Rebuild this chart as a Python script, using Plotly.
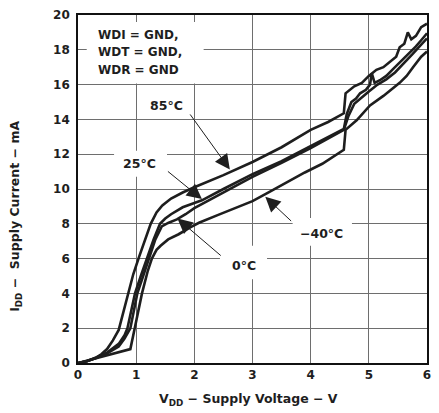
import plotly.graph_objects as go

# Supply current vs. supply voltage at four temperatures
v_85 = [0, 0.15, 0.3, 0.4, 0.5, 0.6, 0.7, 0.78, 0.85, 0.95, 1.05, 1.15, 1.25, 1.35, 1.45,
        1.6, 1.8, 2.0, 2.5, 3.0, 3.5, 4.0, 4.3, 4.57, 4.6, 4.75, 4.88, 5.0, 5.13, 5.25,
        5.36, 5.47, 5.53, 5.61, 5.67, 5.73, 5.81, 5.9, 6.0]
i_85 = [0, 0.1, 0.3, 0.5, 0.8, 1.3, 1.9, 2.9, 3.9, 5.1, 6.1, 7.1, 8.0, 8.65, 9.05,
        9.45, 9.8, 10.1, 10.8, 11.55, 12.4, 13.4, 13.85, 14.35, 15.5, 15.9, 16.1, 16.5,
        16.85, 17.0, 17.3, 17.6, 18.15, 18.35, 19.0, 18.6, 18.8, 19.3, 19.5]

v_25 = [0, 0.15, 0.3, 0.5, 0.7, 0.8, 0.85, 0.98, 1.08, 1.18, 1.3, 1.41, 1.5, 1.6, 1.8,
        2.0, 2.13, 2.5, 3.0, 3.5, 4.0, 4.57, 4.62, 4.7, 4.78, 4.85, 4.95, 5.02, 5.05,
        5.1, 5.19, 5.3, 5.42, 5.64, 5.81, 5.9, 6.0]
i_25 = [0, 0.1, 0.28, 0.6, 1.1, 1.6, 2.0, 4.0, 5.0, 6.0, 7.1, 8.0, 8.3, 8.55, 8.95,
        9.2, 9.35, 10.0, 10.85, 11.6, 12.45, 13.45, 14.3, 15.0, 15.2, 15.5, 15.7, 16.0, 16.66,
        16.1, 16.25, 16.5, 16.9, 17.6, 18.2, 18.55, 18.95]

v_0 = [0, 0.15, 0.3, 0.5, 0.7, 0.8, 0.9, 1.02, 1.12, 1.22, 1.33, 1.44, 1.55, 1.7, 1.85,
       2.0, 2.5, 3.0, 3.5, 4.0, 4.57, 4.65, 4.75, 4.85, 5.0, 5.15, 5.3, 5.45, 5.6,
       5.75, 5.9, 6.0]
i_0 = [0, 0.1, 0.27, 0.55, 0.95, 1.4, 2.0, 4.0, 5.0, 6.0, 7.1, 7.85, 8.05, 8.25, 8.55,
       8.9, 9.8, 10.7, 11.5, 12.35, 13.4, 14.2, 14.9, 15.2, 15.6, 16.0, 16.3, 16.7, 17.2,
       17.75, 18.3, 18.65]

v_m40 = [0, 0.3, 0.6, 0.9, 0.95, 1.0, 1.1, 1.2, 1.27, 1.35, 1.42, 1.55, 1.73, 1.93, 2.08,
         2.4, 2.7, 3.0, 3.3, 3.6, 3.9, 4.2, 4.57, 4.6, 4.79, 5.02, 5.25, 5.53, 5.65,
         5.76, 5.85, 5.9, 6.0]
i_m40 = [0, 0.27, 0.53, 0.8, 1.6, 2.4, 4.0, 5.3, 6.0, 6.5, 6.74, 7.1, 7.4, 7.8, 8.06,
         8.5, 8.9, 9.3, 9.85, 10.4, 10.95, 11.45, 12.25, 13.4, 13.95, 14.8, 15.35, 16.1, 16.5,
         17.0, 17.4, 17.6, 17.9]

x_ticks = [0, 1, 2, 3, 4, 5, 6]
y_ticks = [0, 2, 4, 6, 8, 10, 12, 14, 16, 18, 20]

FONT = "DejaVu Sans, Verdana, sans-serif"
INK = "#1e1e1e"

fig = go.Figure()
for vx, iy, name in [(v_85, i_85, "85°C"), (v_25, i_25, "25°C"),
                     (v_0, i_0, "0°C"), (v_m40, i_m40, "−40°C")]:
    fig.add_trace(go.Scatter(x=vx, y=iy, mode="lines", name=name,
                             line=dict(color=INK, width=2.6), showlegend=False,
                             hoverinfo="skip"))

# White panels behind the text so the grid stops around it
panels = [(0.15, 2.16, 16.07, 19.6),
          (0.62, 1.53, 10.7, 12.2),
          (2.44, 3.25, 4.82, 6.74),
          (3.69, 4.71, 6.74, 8.34)]
for x0, x1, y0, y1 in panels:
    fig.add_shape(type="rect", xref="x", yref="y", x0=x0, x1=x1, y0=y0, y1=y1,
                  fillcolor="white", line=dict(width=0), layer="between")

bold = dict(family=FONT, size=12.5, color=INK, weight="bold")

# Temperature labels
labels = [("85°C", 1.52, 14.8), ("25°C", 1.06, 11.49),
          ("0°C", 2.85, 5.61), ("−40°C", 4.18, 7.46)]
for txt, lx, ly in labels:
    fig.add_annotation(x=lx, y=ly, xref="x", yref="y", text=txt, showarrow=False,
                       xanchor="center", yanchor="middle", font=bold)

# Leader arrows: (tail x, tail y, tip x, tip y)
leaders = [(1.91, 14.37, 2.61, 11.12),
           (1.52, 11.08, 2.13, 9.42),
           (2.48, 6.1, 1.71, 8.3),
           (3.69, 8.08, 3.22, 9.55)]
for tx, ty, hx, hy in leaders:
    fig.add_annotation(x=hx, y=hy, ax=tx, ay=ty, xref="x", yref="y",
                       axref="x", ayref="y", text="", showarrow=True,
                       arrowhead=2, arrowsize=3, arrowwidth=1, arrowcolor=INK,
                       standoff=0, startstandoff=0)

# Test conditions
cond = ["WDI = GND,", "WDT = GND,", "WDR = GND"]
for line, cy in zip(cond, [18.84, 17.85, 16.86]):
    fig.add_annotation(x=0.316, y=cy, xref="x", yref="y", text=line, showarrow=False,
                       xanchor="left", yanchor="middle",
                       font=dict(family=FONT, size=12, color=INK, weight="bold"))

# Axis titles
fig.add_annotation(x=0.489, y=-0.104, xref="paper", yref="paper",
                   xanchor="center", yanchor="middle",
                   text="V<sub>DD</sub> − Supply Voltage − V", showarrow=False,
                   font=dict(family=FONT, size=12.5, color=INK, weight="bold"))
fig.add_annotation(x=-0.178, y=0.4225, xref="paper", yref="paper", textangle=-90,
                   xanchor="center", yanchor="middle",
                   text="I<sub>DD</sub> −  Supply Current − mA", showarrow=False,
                   font=dict(family=FONT, size=12.5, color=INK, weight="bold"))

axis_common = dict(showgrid=True, gridcolor="#6e6e6e", gridwidth=1, zeroline=False,
                   showline=True, linecolor="#111111", linewidth=1.6, mirror=True,
                   ticks="", tickfont=dict(family=FONT, size=12, color=INK, weight="bold"))

fig.update_xaxes(range=[0, 6], tickvals=x_ticks, ticktext=[str(v) for v in x_ticks],
                 **axis_common)
fig.update_yaxes(range=[0, 20], tickvals=y_ticks, ticktext=[str(v) for v in y_ticks],
                 ticklabelstandoff=4, **axis_common)

fig.update_layout(width=439, height=413, margin=dict(l=78, r=8, t=8, b=50),
                  paper_bgcolor="white", plot_bgcolor="white")

fig.write_html("out.html")
